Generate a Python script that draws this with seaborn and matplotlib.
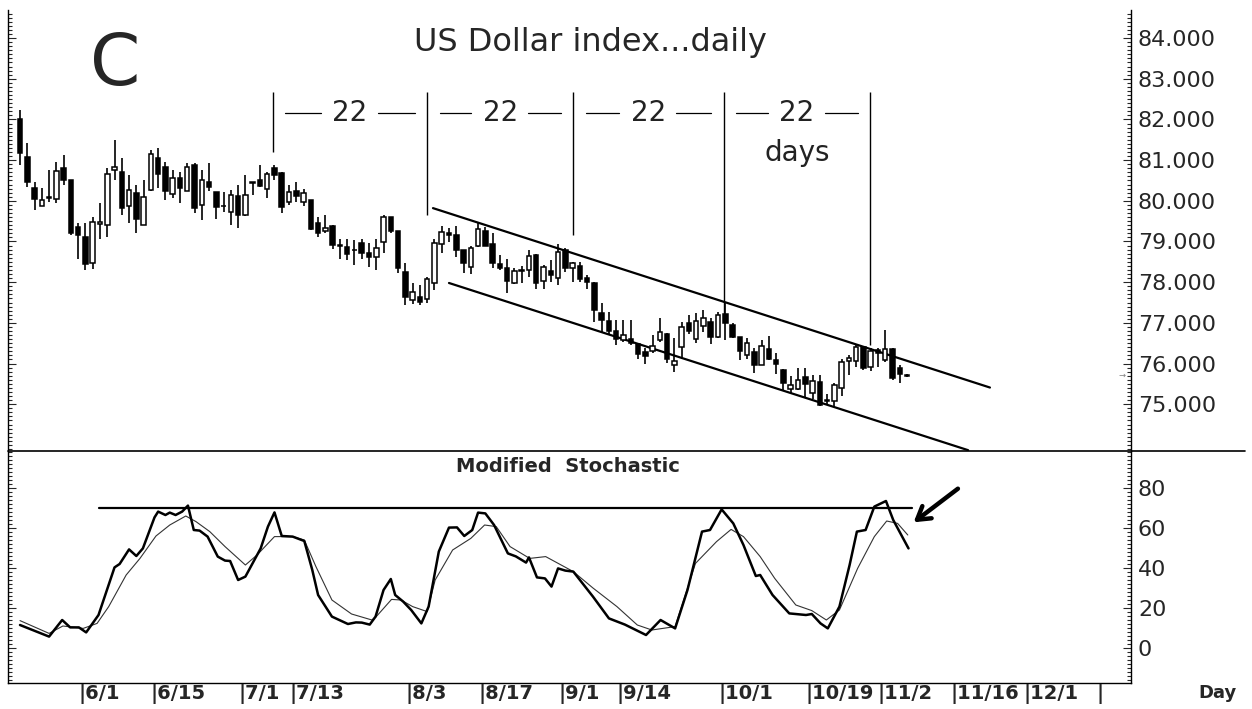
# US Dollar index daily candles with modified stochastic panel

import matplotlib
matplotlib.use('Agg')
import matplotlib.pyplot as plt
import matplotlib.transforms as mtransforms
from matplotlib.lines import Line2D
from matplotlib.ticker import MultipleLocator, FixedLocator, FormatStrFormatter
import seaborn as sns
import numpy as np
import pandas as pd

# daily candles (bar index 0..122)
opens = [82.01, 81.07, 80.31, 79.88, 80.06, 80.04, 80.80, 80.51, 79.35, 79.10,
         78.47, 79.43, 79.41, 80.76, 80.71, 79.87, 80.19, 79.40, 80.26, 81.04,
         80.84, 80.16, 80.55, 80.25, 80.88, 79.90, 80.47, 80.22, 79.88, 79.73,
         80.12, 79.66, 80.47, 80.51, 80.28, 80.80, 80.69, 79.98, 80.24, 79.98,
         80.02, 79.46, 79.26, 79.38, 78.92, 78.87, 78.80, 78.96, 78.72, 78.61,
         78.99, 79.59, 79.25, 78.24, 77.56, 77.64, 77.58, 77.97, 78.95, 79.22,
         79.16, 78.79, 78.38, 78.88, 79.26, 78.95, 78.44, 78.34, 77.98, 78.28,
         78.31, 78.68, 78.03, 78.27, 78.11, 78.80, 78.36, 78.39, 78.11, 77.99,
         77.23, 77.04, 76.80, 76.57, 76.60, 76.47, 76.29, 76.31, 76.57, 76.72,
         75.96, 76.40, 77.00, 76.61, 76.92, 77.03, 76.64, 77.21, 76.94, 76.64,
         76.21, 76.29, 75.96, 76.35, 76.08, 75.85, 75.38, 75.38, 75.67, 75.28,
         75.55, 75.09, 75.08, 75.41, 76.07, 76.07, 76.40, 75.92, 76.33, 76.08,
         76.35, 75.88, 75.72]
highs = [82.23, 81.42, 80.45, 80.31, 80.76, 80.96, 81.13, 80.51, 79.46, 79.46,
         79.61, 79.94, 80.80, 81.49, 81.04, 80.64, 80.39, 80.51, 81.25, 81.31,
         80.96, 80.76, 80.71, 80.92, 80.92, 80.76, 80.92, 80.22, 80.22, 80.27,
         80.39, 80.63, 80.47, 80.88, 80.71, 80.88, 80.71, 80.39, 80.47, 80.28,
         80.03, 79.61, 79.65, 79.40, 79.07, 79.07, 79.03, 79.07, 78.96, 79.07,
         79.65, 79.61, 79.26, 78.46, 77.97, 77.93, 78.13, 79.07, 79.38, 79.32,
         79.38, 78.80, 78.90, 79.48, 79.36, 79.20, 78.66, 78.56, 78.34, 78.39,
         78.80, 78.70, 78.42, 78.54, 78.95, 78.83, 78.50, 78.50, 78.17, 78.01,
         77.48, 77.27, 77.07, 77.07, 77.07, 76.49, 76.37, 76.70, 77.11, 76.74,
         76.62, 77.03, 77.19, 77.24, 77.31, 77.11, 77.27, 77.48, 76.99, 76.66,
         76.62, 76.37, 76.57, 76.67, 76.26, 75.87, 75.69, 75.90, 75.90, 75.71,
         75.71, 75.26, 75.51, 76.12, 76.20, 76.45, 76.41, 76.37, 76.37, 76.82,
         76.37, 75.96, 75.74]
lows = [80.88, 80.35, 79.77, 79.86, 79.98, 79.95, 80.39, 79.16, 78.56, 78.31,
        78.33, 79.07, 79.11, 80.51, 79.65, 79.45, 79.20, 79.40, 80.23, 80.31,
        80.02, 80.06, 79.95, 80.23, 79.69, 79.53, 80.23, 79.55, 79.73, 79.40,
        79.32, 79.62, 80.14, 80.35, 80.06, 80.51, 79.69, 79.90, 79.98, 79.86,
        79.28, 79.10, 79.20, 78.82, 78.58, 78.54, 78.42, 78.58, 78.38, 78.31,
        78.72, 79.20, 78.22, 77.43, 77.46, 77.43, 77.48, 77.80, 78.71, 78.99,
        78.61, 78.22, 78.19, 78.87, 78.90, 78.34, 78.29, 77.74, 77.95, 77.98,
        78.13, 77.84, 77.84, 78.01, 77.93, 78.25, 78.01, 78.01, 77.84, 77.03,
        76.78, 76.69, 76.45, 76.53, 76.45, 76.12, 76.00, 76.25, 76.53, 76.01,
        75.79, 76.12, 76.72, 76.51, 76.78, 76.49, 76.62, 76.59, 76.62, 76.08,
        76.10, 75.77, 75.96, 76.08, 75.75, 75.34, 75.26, 75.34, 75.16, 75.14,
        74.95, 74.98, 74.94, 75.20, 75.71, 75.92, 75.84, 75.82, 75.92, 76.04,
        75.60, 75.51, 75.68]
closes = [81.18, 80.46, 80.04, 80.03, 80.10, 80.74, 80.51, 79.20, 79.16, 78.44,
          79.49, 79.47, 80.66, 80.82, 79.83, 80.26, 79.56, 80.10, 81.14, 80.67,
          80.24, 80.56, 80.31, 80.84, 79.83, 80.51, 80.35, 79.85, 79.86, 80.14,
          79.65, 80.14, 80.43, 80.36, 80.67, 80.64, 79.85, 80.21, 80.12, 80.18,
          79.30, 79.21, 79.34, 78.92, 78.89, 78.69, 78.78, 78.72, 78.61, 78.83,
          79.61, 79.26, 78.34, 77.64, 77.76, 77.52, 78.07, 78.96, 79.24, 79.17,
          78.79, 78.47, 78.85, 79.30, 78.90, 78.46, 78.36, 78.03, 78.27, 78.30,
          78.64, 77.98, 78.38, 78.17, 78.75, 78.36, 78.46, 78.09, 78.01, 77.31,
          77.07, 76.80, 76.60, 76.70, 76.51, 76.23, 76.19, 76.43, 76.78, 76.12,
          76.06, 76.90, 76.80, 77.04, 77.11, 76.64, 77.19, 76.99, 76.64, 76.31,
          76.51, 75.96, 76.43, 76.12, 75.98, 75.52, 75.47, 75.60, 75.49, 75.57,
          74.98, 75.11, 75.47, 76.04, 76.13, 76.41, 75.90, 76.31, 76.25, 76.35,
          75.65, 75.74, 75.70]

# date labels on the bar axis
date_ticks = [8, 18, 30, 37, 53, 63, 74, 82, 96, 108, 118, 128, 138, 148]
date_labels = ['6/1', '6/15', '7/1', '7/13', '8/3', '8/17', '9/1', '9/14',
               '10/1', '10/19', '11/2', '11/16', '12/1', '']

# 22 day cycle markers
marker_bars = [34.8, 56.0, 76.1, 96.8, 116.9]
marker_lows = [81.20, 79.65, 79.16, 77.12, 76.45]
marker_top = 82.67
cycle_label = '22'

# falling channel
upper_x = [56.8, 133.4]
upper_y = [79.82, 75.41]
lower_x = [59.0, 130.4]
lower_y = [77.98, 73.87]

# modified stochastic (thick = fast, thin = slow)
k_x = [0, 4.0, 5.8, 6.9, 8.1, 9.1, 10.8, 13.0, 13.7, 15.0, 16.0, 16.9, 18.5, 19.0,
       20.0, 20.6, 21.4, 22.3, 23.1, 23.9, 24.7, 25.8, 27.2, 28.2, 28.9, 30.0, 31.0,
       33.1, 34.1, 35.0, 36.0, 37.5, 39.1, 40.2, 41.0, 42.9, 45.1, 46.2, 47.0, 48.1,
       48.9, 50.0, 51.0, 51.6, 52.7, 53.8, 55.2, 56.2, 57.6, 59.0, 60.1, 61.1, 62.2,
       63.0, 64.0, 65.2, 67.1, 68.2, 69.6, 70.0, 71.1, 72.2, 73.1, 74.0, 75.0, 76.1,
       78.8, 81.0, 83.2, 86.1, 88.1, 90.1, 91.8, 93.8, 94.9, 96.5, 98.1, 99.5, 101.2,
       101.8, 103.5, 105.8, 108.1, 108.9, 110.1, 111.1, 112.7, 114.1, 115.1, 116.3,
       117.5, 119.1, 120.1, 122.2]
k_val = [11.5, 5.7, 14, 10.3, 10.3, 7.8, 16.5, 40.3, 42, 49.3, 46, 49.8, 65.3, 68.2,
         66.5, 67.7, 66.5, 68.2, 71.2, 59, 58.7, 55.7, 45.7, 43.7, 43.5, 34, 35.7,
         49.8, 60.7, 67.8, 56, 55.7, 53.5, 39, 26.5, 15.7, 12, 12.8, 12.7, 11.7,
         15.7, 29, 34.5, 26.5, 23.2, 19, 12.3, 20.7, 48.2, 60.2, 60.3, 56, 59,
         67.7, 67.3, 61.5, 47.3, 45.8, 42.7, 45.3, 35.3, 34.8, 30.7, 39.8, 38.7, 38.2,
         25.7, 14.8, 11.7, 6.5, 14, 9.8, 29, 58.2, 59, 69.3, 62.3, 51.5, 36,
         36.5, 26.5, 17.3, 16.5, 17, 12.3, 9.8, 20.7, 41.5, 58.2, 59,
         70.7, 73.5, 64, 49.8]
d_x = [0, 4.0, 5.9, 8.7, 10.6, 12.2, 14.6, 16.5, 18.7, 20.6, 22.8, 24.2, 26.1, 28.2,
       31.0, 32.6, 35.0, 37.5, 39.1, 40.7, 42.9, 45.6, 48.4, 49.0, 51.1, 52.4, 54.0,
       56.0, 57.1, 59.5, 62.0, 63.9, 65.5, 67.4, 70.1, 72.3, 76.1, 78.8, 82.1, 84.9,
       86.9, 90.1, 92.9, 95.8, 97.8, 99.5, 101.8, 103.8, 106.7, 108.9, 110.9, 112.7,
       115.2, 117.5, 119.2, 120.7, 122.1]
d_val = [13.7, 7.3, 11, 9.8, 12.3, 20.7, 36.5, 44.8, 56, 61.5, 66, 63.2, 58.2, 50.7,
         41.5, 46.5, 55.7, 55.7, 54, 40.7, 24, 17, 14, 15.7, 24.3, 24, 20.7,
         18.2, 34, 49, 54.8, 61.5, 60.7, 50.7, 44.8, 45.7, 38.2, 30, 20.7, 11.5,
         9, 10.7, 42.3, 53.2, 59.3, 55.7, 45.7, 34.8, 21.5, 18.7, 14, 19,
         39.8, 55.7, 63.5, 62.3, 56.5]
stoch_level = 69.8
level_x = [10.8, 122.7]
arrow_tail = (129.3, 80.5)
arrow_tip = (122.6, 62.0)

sns.set_style('white')
plt.rcParams['font.family'] = ['DejaVu Sans']

W, H = 1252, 709
fig = plt.figure(figsize=(W / 100, H / 100), dpi=100)
ax = fig.add_axes([8 / W, 1 - 451 / H, 1123 / W, 441 / H])
ax2 = fig.add_axes([8 / W, 1 - 683 / H, 1123 / W, 232 / H], sharex=ax)

# ---- candles ----
df = pd.DataFrame({'o': opens, 'h': highs, 'l': lows, 'c': closes})
df['bar'] = np.arange(len(df))
df['up'] = df.c >= df.o
df['bottom'] = df[['o', 'c']].min(axis=1)
df['height'] = (df.c - df.o).abs().clip(lower=0.015)

ax.vlines(df.bar, df.l, df.h, color='black', lw=1.2, zorder=2)
up = df[df.up]
dn = df[~df.up]
ax.bar(up.bar, up.height, bottom=up.bottom, width=0.62, color='white',
       edgecolor='black', lw=1.1, zorder=3)
ax.bar(dn.bar, dn.height, bottom=dn.bottom, width=0.62, color='black',
       edgecolor='black', lw=1.1, zorder=3)

# channel
ax.plot(upper_x, upper_y, color='black', lw=1.6)
ax.plot(lower_x, lower_y, color='black', lw=1.6)

# cycle markers and labels
ax.vlines(marker_bars, marker_lows, marker_top, color='black', lw=1.0)
label_y = 82.16
for m0, m1 in zip(marker_bars[:-1], marker_bars[1:]):
    mid = (m0 + m1) / 2
    ax.text(mid, label_y, cycle_label, ha='center', va='center', fontsize=20, color='#222222')
    ax.plot([m0 + 1.7, mid - 4.0], [label_y, label_y], color='black', lw=0.9)
    ax.plot([mid + 3.8, m1 - 1.7], [label_y, label_y], color='black', lw=0.9)
ax.text((marker_bars[-2] + marker_bars[-1]) / 2, 81.17, 'days', ha='center',
        va='center', fontsize=20, color='#222222')

ax.text(151.6, closes[-1], '→', fontsize=6, color='gray', ha='center', va='center')

ax.set_xlim(-1.65, 152.8)
ax.set_ylim(73.85, 84.69)
ax.yaxis.tick_right()
ax.yaxis.set_major_locator(FixedLocator(list(range(75, 85))))
ax.yaxis.set_major_formatter(FormatStrFormatter('%.3f'))
ax.yaxis.set_minor_locator(MultipleLocator(0.1))
ax.tick_params(axis='y', which='both', direction='in', left=True, right=True,
               labelleft=False, labelright=True, labelsize=16, pad=5, width=0.8)
ax.tick_params(axis='y', which='major', length=6)
ax.tick_params(axis='y', which='minor', length=3)
ax.tick_params(axis='x', bottom=False, labelbottom=False)
for s in ['top', 'bottom']:
    ax.spines[s].set_visible(False)
for s in ['left', 'right']:
    ax.spines[s].set_color('black')
    ax.spines[s].set_linewidth(1.0)

# ---- stochastic ----
sns.lineplot(x=d_x, y=d_val, ax=ax2, color='#333333', lw=0.8, sort=False, estimator=None)
sns.lineplot(x=k_x, y=k_val, ax=ax2, color='black', lw=1.8, sort=False, estimator=None)
ax2.plot(level_x, [stoch_level, stoch_level], color='black', lw=1.6)
ax2.annotate('', xy=arrow_tip, xytext=arrow_tail,
             arrowprops=dict(arrowstyle='->, head_length=0.9, head_width=0.55',
                             color='black', lw=3.2))

ax2.set_ylim(-17.5, 98.5)
ax2.yaxis.tick_right()
ax2.yaxis.set_major_locator(FixedLocator([0, 20, 40, 60, 80]))
ax2.yaxis.set_minor_locator(MultipleLocator(2))
ax2.tick_params(axis='y', which='both', direction='in', left=True, right=True,
                labelleft=False, labelright=True, labelsize=16, pad=5, width=0.8)
ax2.tick_params(axis='y', which='major', length=6)
ax2.tick_params(axis='y', which='minor', length=3)
ax2.tick_params(axis='x', bottom=False, labelbottom=False)
ax2.set_xlabel('')
ax2.set_ylabel('')
ax2.spines['top'].set_visible(False)
for s in ['left', 'right', 'bottom']:
    ax2.spines[s].set_color('black')
    ax2.spines[s].set_linewidth(1.0)

trans = mtransforms.blended_transform_factory(ax2.transData, ax2.transAxes)
for pos, lab in zip(date_ticks, date_labels):
    ax2.text(pos, -0.005, '|' + lab, transform=trans, ha='left', va='top',
             fontsize=14, fontweight='bold', clip_on=False)

# ---- figure texts ----
fig.add_artist(Line2D([8 / W, 1245 / W], [1 - 451 / H, 1 - 451 / H], color='black', lw=1.2))
fig.text(590 / W, 1 - 42 / H, 'US Dollar index...daily', ha='center', va='center', fontsize=23)
fig.text(115 / W, 1 - 66 / H, 'C', ha='center', va='center', fontsize=52)
fig.text(568 / W, 1 - 466 / H, 'Modified  Stochastic', ha='center', va='center',
         fontsize=14, fontweight='bold')
fig.text(1218 / W, 1 - 693 / H, 'Day', ha='center', va='center', fontsize=13, fontweight='bold')

fig.savefig('out.png', dpi=100, facecolor='white')
